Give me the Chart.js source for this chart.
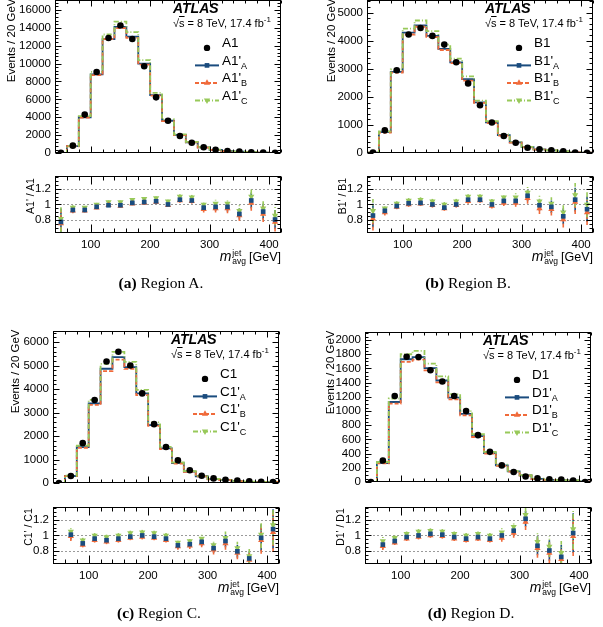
<!DOCTYPE html>
<html>
<head>
<meta charset="utf-8">
<script src="https://cdn.jsdelivr.net/npm/chart.js@4.4.1/dist/chart.umd.min.js"></script>
<style>
  body { margin: 0; background: #fff; width: 603px; height: 627px; overflow: hidden; position: relative;
         font-family: "Liberation Sans", Arial, Helvetica, sans-serif; color: #000; }
  canvas { position: absolute; }
  .t { position: absolute; white-space: nowrap; }
  .sub { font-size: 9px; position: relative; top: 4px; }
  .sup { font-size: 8px; position: relative; top: -5px; }
  .ss { display: inline-block; font-size: 8.5px; line-height: 8px; vertical-align: -3px; margin: 0 3px 0 1px; text-align: left; }
  .cap { font-family: "Liberation Serif", "DejaVu Serif", serif; font-size: 15.5px; text-align: center; }
</style>
</head>
<body>
<script>
// bins: 20 GeV wide, 40-420 GeV
const edges = [40, 60, 80, 100, 120, 140, 160, 180, 200, 220, 240, 260, 280, 300, 320, 340, 360, 380, 400, 420];
const centers = [50, 70, 90, 110, 130, 150, 170, 190, 210, 230, 250, 270, 290, 310, 330, 350, 370, 390, 410];
const xTicks = [100, 200, 300, 400];
const ratioTicks = [0.8, 1, 1.2];

// Region A
const dataA = [30, 830, 4300, 9060, 12850, 14240, 12740, 9690, 6220, 3610, 1910, 1150, 660, 380, 240, 170, 100, 60, 40];
const histAA = [23, 772, 4000, 8790, 12720, 14100, 12990, 9980, 6470, 3610, 2025, 1210, 634, 369, 233, 150, 105, 55, 32];
const histAB = [23, 764, 3956, 8698, 12720, 13955, 12867, 9884, 6407, 3574, 2006, 1196, 620, 361, 228, 146, 102, 53, 31];
const histAC = [25, 797, 4128, 9060, 13236, 14667, 13504, 10368, 6718, 3754, 2101, 1254, 660, 384, 242, 156, 110, 57, 34];
const ratioAA = [0.78, 0.93, 0.93, 0.97, 0.99, 0.99, 1.02, 1.03, 1.04, 1.00, 1.06, 1.05, 0.96, 0.97, 0.97, 0.88, 1.05, 0.91, 0.81];
const ratioAB = [0.76, 0.92, 0.92, 0.96, 0.99, 0.98, 1.01, 1.02, 1.03, 0.99, 1.05, 1.04, 0.94, 0.95, 0.95, 0.86, 1.02, 0.88, 0.78];
const ratioAC = [0.82, 0.96, 0.96, 1.00, 1.03, 1.03, 1.06, 1.07, 1.08, 1.04, 1.10, 1.09, 1.00, 1.01, 1.01, 0.92, 1.10, 0.95, 0.86];
const errA = [0.17, 0.03, 0.02, 0.02, 0.02, 0.02, 0.02, 0.02, 0.02, 0.02, 0.03, 0.03, 0.04, 0.05, 0.06, 0.07, 0.10, 0.10, 0.12];
const yTicksA = [0, 2000, 4000, 6000, 8000, 10000, 12000, 14000, 16000];

// Region B
const dataB = [20, 810, 2950, 4220, 4450, 4170, 3860, 3230, 2480, 1700, 1090, 610, 366, 190, 133, 100, 67, 22, 15];
const histBA = [17, 745, 2891, 4283, 4539, 4170, 3706, 3230, 2629, 1802, 1090, 637, 382, 211, 132, 97, 57, 23, 14];
const histBB = [16, 729, 2862, 4220, 4495, 4128, 3667, 3198, 2579, 1785, 1068, 622, 373, 205, 126, 94, 54, 23, 14];
const histBC = [18, 770, 2980, 4431, 4717, 4337, 3860, 3359, 2728, 1870, 1134, 665, 399, 219, 138, 101, 60, 25, 15];
const ratioBA = [0.86, 0.92, 0.98, 1.015, 1.02, 1.00, 0.96, 1.00, 1.06, 1.06, 1.00, 1.045, 1.045, 1.11, 0.99, 0.97, 0.85, 1.06, 0.94];
const ratioBB = [0.82, 0.90, 0.97, 1.00, 1.01, 0.99, 0.95, 0.99, 1.04, 1.05, 0.98, 1.02, 1.02, 1.08, 0.95, 0.94, 0.81, 1.03, 0.90];
const ratioBC = [0.92, 0.95, 1.01, 1.05, 1.06, 1.04, 1.00, 1.04, 1.10, 1.10, 1.04, 1.09, 1.09, 1.15, 1.04, 1.01, 0.90, 1.12, 1.00];
const errB = [0.15, 0.04, 0.03, 0.03, 0.03, 0.03, 0.03, 0.03, 0.03, 0.03, 0.03, 0.04, 0.05, 0.07, 0.07, 0.08, 0.10, 0.15, 0.16];
const yTicksB = [0, 1000, 2000, 3000, 4000, 5000];

// Region C
const dataC = [0, 300, 1700, 3540, 5180, 5590, 5010, 3820, 2510, 1540, 970, 550, 316, 200, 145, 105, 79, 53, 50];
const histCA = [0, 303, 1530, 3398, 4869, 5366, 4935, 3820, 2472, 1478, 849, 490, 291, 168, 135, 84, 56, 51, 54];
const histCB = [0, 297, 1496, 3328, 4766, 5255, 4860, 3744, 2435, 1448, 834, 479, 284, 164, 131, 82, 55, 50, 52];
const histCC = [0, 315, 1598, 3540, 5076, 5590, 5160, 3973, 2585, 1540, 883, 512, 303, 176, 141, 88, 58, 54, 57];
const ratioCA = [null, 1.01, 0.90, 0.96, 0.94, 0.96, 0.985, 1.00, 0.985, 0.96, 0.875, 0.89, 0.92, 0.84, 0.93, 0.80, 0.71, 0.97, 1.08];
const ratioCB = [null, 0.99, 0.88, 0.94, 0.92, 0.94, 0.97, 0.98, 0.97, 0.94, 0.86, 0.87, 0.90, 0.82, 0.90, 0.78, 0.69, 0.94, 1.04];
const ratioCC = [null, 1.05, 0.94, 1.00, 0.98, 1.00, 1.03, 1.04, 1.03, 1.00, 0.91, 0.93, 0.96, 0.88, 0.97, 0.84, 0.74, 1.01, 1.13];
const errC = [0, 0.06, 0.03, 0.03, 0.03, 0.03, 0.03, 0.03, 0.03, 0.03, 0.04, 0.04, 0.05, 0.06, 0.08, 0.08, 0.09, 0.17, 0.25];
const yTicksC = [0, 1000, 2000, 3000, 4000, 5000, 6000];

// Region D
const dataD = [0, 304, 1213, 1765, 1761, 1574, 1417, 1213, 1000, 661, 426, 235, 143, 78, 52, 39, 35, 22, 0];
const histDA = [0, 269, 1128, 1730, 1761, 1605, 1431, 1189, 960, 648, 409, 235, 152, 94, 45, 32, 26, 23, 10];
const histDB = [0, 263, 1104, 1694, 1726, 1574, 1403, 1164, 940, 635, 400, 228, 147, 91, 44, 30, 25, 22, 9];
const histDC = [0, 283, 1177, 1800, 1849, 1668, 1488, 1237, 1000, 674, 426, 244, 159, 98, 48, 34, 27, 24, 11];
const ratioDA = [null, 0.885, 0.93, 0.98, 1.00, 1.02, 1.01, 0.98, 0.96, 0.98, 0.96, 1.00, 1.06, 1.21, 0.87, 0.81, 0.73, 1.03, null];
const ratioDB = [null, 0.865, 0.91, 0.96, 0.98, 1.00, 0.99, 0.96, 0.94, 0.96, 0.94, 0.97, 1.03, 1.17, 0.84, 0.78, 0.70, 0.99, null];
const ratioDC = [null, 0.93, 0.97, 1.02, 1.05, 1.06, 1.05, 1.02, 1.00, 1.02, 1.00, 1.04, 1.11, 1.26, 0.92, 0.86, 0.78, 1.08, null];
const errD = [0, 0.05, 0.03, 0.03, 0.03, 0.03, 0.03, 0.03, 0.03, 0.03, 0.03, 0.05, 0.06, 0.10, 0.12, 0.13, 0.15, 0.25, 0];
const yTicksD = [0, 200, 400, 600, 800, 1000, 1200, 1400, 1600, 1800, 2000];

Chart.defaults.font.family = "'Liberation Sans', Arial, Helvetica, sans-serif";
Chart.defaults.color = '#000';

const BLUE = '#1a4c7e', ORANGE = '#f06a3a', GREEN = '#98c95a';
const styles = [
  { color: BLUE, dash: [], point: 'rect', r: 3.3, rot: 0 },
  { color: ORANGE, dash: [4, 2], point: 'triangle', r: 3.6, rot: 0 },
  { color: GREEN, dash: [5, 2, 1, 2], point: 'triangle', r: 3.6, rot: 180 },
];

// page layout of each panel: frame edges in px
const panels = [
  { name: 'A', tag: 'a', data: dataA, hists: [histAA, histAB, histAC], ratios: [ratioAA, ratioAB, ratioAC], err: errA,
    yMax: 17100, yTicks: yTicksA, yMinor: 400, l: 55, r: 281, t: -5, b: 160, rt: 171, rb: 233, capX: 161, capY: 283, yDx: -44 },
  { name: 'B', tag: 'b', data: dataB, hists: [histBA, histBB, histBC], ratios: [ratioBA, ratioBB, ratioBC], err: errB,
    yMax: 5450, yTicks: yTicksB, yMinor: 200, l: 367, r: 593, t: -5, b: 160, rt: 171, rb: 233, capX: 468, capY: 283, yDx: -36 },
  { name: 'C', tag: 'c', data: dataC, hists: [histCA, histCB, histCC], ratios: [ratioCA, ratioCB, ratioCC], err: errC,
    yMax: 6480, yTicks: yTicksC, yMinor: 200, l: 53, r: 279, t: 326, b: 490, rt: 502, rb: 564, capX: 159, capY: 613, yDx: -38 },
  { name: 'D', tag: 'd', data: dataD, hists: [histDA, histDB, histDC], ratios: [ratioDA, ratioDB, ratioDC], err: errD,
    yMax: 2115, yTicks: yTicksD, yMinor: 50, l: 365, r: 591, t: 327, b: 489, rt: 502, rb: 564, capX: 471, capY: 613, yDx: -35 },
];

function drawMarker(ctx, style, x, y, r, rot, color) {
  ctx.save();
  ctx.fillStyle = color;
  ctx.translate(x, y);
  ctx.rotate(rot * Math.PI / 180);
  ctx.beginPath();
  if (style === 'circle') {
    ctx.arc(0, 0, r, 0, Math.PI * 2);
  } else if (style === 'rect') {
    const s = r * Math.SQRT1_2;
    ctx.rect(-s, -s, 2 * s, 2 * s);
  } else {
    ctx.moveTo(0, -r);
    ctx.lineTo(r * 0.87, r * 0.5);
    ctx.lineTo(-r * 0.87, r * 0.5);
    ctx.closePath();
  }
  ctx.fill();
  ctx.restore();
}

// frame, inner ticks, dotted grid, error bars and legend symbols
const frameTicks = {
  id: 'frameTicks',
  beforeDatasetsDraw(chart, args, opts) {
    const { ctx, chartArea: a, scales: { x, y } } = chart;
    ctx.save();
    if (opts.grid) {
      ctx.strokeStyle = '#9a9a9a';
      ctx.lineWidth = 1;
      ctx.setLineDash([2, 2]);
      opts.grid.forEach(v => {
        const py = Math.round(y.getPixelForValue(v)) + 0.5;
        ctx.beginPath(); ctx.moveTo(a.left, py); ctx.lineTo(a.right, py); ctx.stroke();
      });
    }
    if (opts.errors) {
      ctx.beginPath(); ctx.rect(a.left, a.top, a.right - a.left, a.bottom - a.top); ctx.clip();
      chart.data.datasets.forEach(ds => {
        ctx.strokeStyle = ds.errColor;
        ctx.lineWidth = 1.6;
        ctx.setLineDash(ds.errDash);
        ds.data.forEach((pt, i) => {
          if (pt.y == null) return;
          const px = x.getPixelForValue(pt.x);
          ctx.beginPath();
          ctx.moveTo(px, y.getPixelForValue(pt.y - ds.err[i]));
          ctx.lineTo(px, y.getPixelForValue(pt.y + ds.err[i]));
          ctx.stroke();
        });
      });
    }
    ctx.restore();
  },
  afterDatasetsDraw(chart, args, opts) {
    const { ctx, chartArea: a, scales: { x, y } } = chart;
    ctx.save();
    ctx.strokeStyle = '#000';
    ctx.lineWidth = 1;
    ctx.setLineDash([]);
    const L = Math.round(a.left) + 0.5, R = Math.round(a.right) - 0.5;
    const T = Math.round(a.top) + 0.5, B = Math.round(a.bottom) - 0.5;
    ctx.strokeRect(L, T, R - L, B - T);
    ctx.beginPath();
    for (let k = Math.ceil(x.min / opts.xMinor - 1e-6); k * opts.xMinor <= x.max + 1e-6; k++) {
      const v = k * opts.xMinor;
      const big = Math.abs(v / opts.xMajor - Math.round(v / opts.xMajor)) < 1e-6;
      const len = big ? opts.xLen : opts.xLen / 2;
      const px = Math.round(x.getPixelForValue(v)) + 0.5;
      ctx.moveTo(px, B); ctx.lineTo(px, B - len);
      ctx.moveTo(px, T); ctx.lineTo(px, T + len);
    }
    for (let k = Math.ceil(y.min / opts.yMinor - 1e-6); k * opts.yMinor <= y.max + 1e-6; k++) {
      const v = k * opts.yMinor;
      const big = Math.abs(v / opts.yMajor - Math.round(v / opts.yMajor)) < 1e-6;
      const len = big ? 6 : 3;
      const py = Math.round(y.getPixelForValue(v)) + 0.5;
      ctx.moveTo(L, py); ctx.lineTo(L + len, py);
      ctx.moveTo(R, py); ctx.lineTo(R - len, py);
    }
    ctx.stroke();

    if (opts.legend) {
      const rows = [48, 65.5, 83, 100.5];
      const x0 = a.right - 86, x1 = a.right - 62, xm = (x0 + x1) / 2;
      drawMarker(ctx, 'circle', xm, a.top + rows[0], 3.2, 0, '#000');
      styles.forEach((s, k) => {
        const ry = a.top + rows[k + 1];
        ctx.strokeStyle = s.color;
        ctx.lineWidth = 2;
        ctx.setLineDash(s.dash);
        ctx.beginPath(); ctx.moveTo(x0, ry); ctx.lineTo(x1, ry); ctx.stroke();
        drawMarker(ctx, s.point, xm, ry, s.r, s.rot, s.color);
      });
    }
    ctx.restore();
  }
};

function addCanvas(left, top, w, h) {
  const c = document.createElement('canvas');
  c.width = w; c.height = h;
  c.style.left = left + 'px'; c.style.top = top + 'px';
  document.body.appendChild(c);
  return c;
}

function addText(html, css, cls) {
  const d = document.createElement('div');
  d.className = 't' + (cls ? ' ' + cls : '');
  d.innerHTML = html;
  Object.assign(d.style, css);
  document.body.appendChild(d);
}

function stepPoints(vals) {
  const pts = vals.map((v, i) => ({ x: edges[i], y: v }));
  pts.push({ x: edges[edges.length - 1], y: vals[vals.length - 1] });
  return pts;
}

const YW = 50, PT = 6, PR = 6, PB = 4, XH = 20;

panels.forEach(p => {
  const fw = p.r - p.l;

  // main histogram panel
  const mc = addCanvas(p.l - YW, p.t - PT, YW + fw + PR, PT + (p.b - p.t) + PB);
  new Chart(mc, {
    type: 'line',
    data: {
      datasets: [
        { data: centers.map((x, i) => ({ x, y: p.data[i] })), showLine: false, pointRadius: 3.3,
          pointBackgroundColor: '#000', pointBorderWidth: 0, order: 0 },
        ...p.hists.map((h, k) => ({ data: stepPoints(h), stepped: 'before', borderColor: styles[k].color,
          borderDash: styles[k].dash, borderWidth: 1.8, pointRadius: 0, fill: false, order: 3 - k }))
      ]
    },
    options: {
      responsive: false, animation: false, events: [],
      layout: { padding: { left: 0, top: PT, right: PR, bottom: PB } },
      plugins: {
        legend: { display: false }, tooltip: { enabled: false },
        frameTicks: { xMinor: 20, xMajor: 100, xLen: 6, yMinor: p.yMinor, yMajor: p.yTicks[1] - p.yTicks[0], legend: true }
      },
      scales: {
        x: { type: 'linear', min: 40, max: 420, display: false },
        y: { type: 'linear', min: 0, max: p.yMax,
             afterFit(s) { s.width = YW; },
             afterBuildTicks(s) { s.ticks = p.yTicks.map(v => ({ value: v })); },
             grid: { display: false, drawTicks: false }, border: { display: false },
             ticks: { font: { size: 11.5 }, padding: 4, color: '#000', autoSkip: false, callback: v => String(v) } }
      }
    },
    plugins: [frameTicks]
  });

  // ratio panel
  const rc = addCanvas(p.l - YW, p.rt - PT, YW + fw + PR, PT + (p.rb - p.rt) + XH + PB);
  new Chart(rc, {
    type: 'line',
    data: {
      datasets: p.ratios.map((rv, k) => ({
        data: centers.map((x, i) => ({ x, y: rv[i] })), showLine: false,
        pointStyle: styles[k].point, pointRadius: styles[k].r, pointRotation: styles[k].rot,
        pointBackgroundColor: styles[k].color, pointBorderColor: styles[k].color, pointBorderWidth: 0,
        err: p.err, errDash: styles[k].dash, errColor: styles[k].color, order: k
      }))
    },
    options: {
      responsive: false, animation: false, events: [],
      layout: { padding: { left: 0, top: PT, right: PR, bottom: PB } },
      plugins: {
        legend: { display: false }, tooltip: { enabled: false },
        frameTicks: { xMinor: 20, xMajor: 100, xLen: 8, yMinor: 0.05, yMajor: 0.2, grid: ratioTicks, errors: true }
      },
      scales: {
        x: { type: 'linear', min: 40, max: 420,
             afterFit(s) { s.height = XH; },
             afterBuildTicks(s) { s.ticks = xTicks.map(v => ({ value: v })); },
             grid: { display: false, drawTicks: false }, border: { display: false },
             ticks: { font: { size: 11.5 }, padding: 5, color: '#000', maxRotation: 0, autoSkip: false, callback: v => String(v) } },
        y: { type: 'linear', min: 0.64, max: 1.36,
             afterFit(s) { s.width = YW; },
             afterBuildTicks(s) { s.ticks = ratioTicks.map(v => ({ value: v })); },
             grid: { display: false, drawTicks: false }, border: { display: false },
             ticks: { font: { size: 11.5 }, padding: 4, color: '#000', autoSkip: false,
                      callback: v => (v === 1 ? '1' : v.toFixed(1)) } }
      }
    },
    plugins: [frameTicks]
  });

  // texts
  const N = p.name;
  addText('ATLAS', { left: (p.r - 108) + 'px', top: (p.t + 6) + 'px', font: 'italic bold 14px "Liberation Sans", Arial, sans-serif', lineHeight: '14px' });
  addText('√<span style="text-decoration:overline">s</span> = 8 TeV, 17.4 fb<span class="sup">-1</span>',
    { left: (p.r - 108) + 'px', top: (p.t + 22) + 'px', fontSize: '11px', lineHeight: '12px' });
  const rows = [48, 65.5, 83, 100.5];
  const labels = [N + '1', N + "1'<span class=\"sub\">A</span>", N + "1'<span class=\"sub\">B</span>", N + "1'<span class=\"sub\">C</span>"];
  labels.forEach((lb, k) => addText(lb, { left: (p.r - 59) + 'px', top: (p.t + rows[k] - 7) + 'px', fontSize: '13.5px', lineHeight: '14px' }));

  addText('Events / 20 GeV', { left: (p.l + p.yDx - 65) + 'px', top: (p.t + 68 - 6.5) + 'px', width: '130px', textAlign: 'right',
    fontSize: '11.5px', lineHeight: '13px', transform: 'rotate(-90deg)' });
  addText(N + "1' / " + N + '1', { left: (p.l - 25.5 - 40) + 'px', top: ((p.rt + p.rb) / 2 - 6 - 6) + 'px', width: '80px', textAlign: 'center',
    fontSize: '10.5px', lineHeight: '12px', transform: 'rotate(-90deg)' });
  addText('<i style="font-size:14px">m</i><span class="ss">jet<br>avg</span>[GeV]', { right: (603 - p.r) + 'px', top: (p.rb + 16) + 'px', fontSize: '12.5px', lineHeight: '14px' });
  addText('<b>(' + p.tag + ')</b> Region ' + N + '.', { left: (p.capX - 100) + 'px', top: (p.capY - 9) + 'px', width: '200px', lineHeight: '18px' }, 'cap');
});
</script>
</body>
</html>
